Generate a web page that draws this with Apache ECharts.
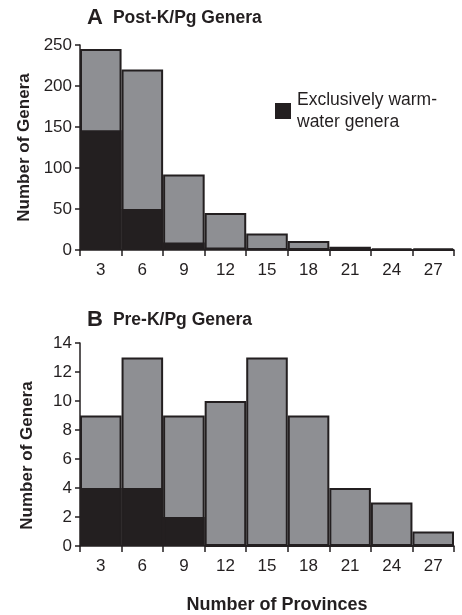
<!DOCTYPE html>
<html>
<head>
<meta charset="utf-8">
<script src="https://cdn.jsdelivr.net/npm/echarts@6/dist/echarts.min.js"></script>
<style>
  html, body { margin: 0; padding: 0; background: #fff; }
  #chart { width: 462px; height: 615px; }
</style>
</head>
<body>
<div id="chart"></div>
<script>
// 省份数（类目）
var provinces = ['3', '6', '9', '12', '15', '18', '21', '24', '27'];
// A: Post-K/Pg
var postTotal = [245, 220, 92, 45, 20, 11, 4, 2, 2];
var postWarm = [146, 50, 9, 3, 1, 0, 0, 0, 0];
// B: Pre-K/Pg
var preTotal = [9, 13, 9, 10, 13, 9, 4, 3, 1];
var preWarm = [4, 4, 2, 0, 0, 0, 0, 0, 0];

var ink = '#231f20';
var grey = '#8e8f93';
var font = 'Liberation Sans, Arial, Helvetica, sans-serif';

var myChart = echarts.init(document.getElementById('chart'));

function xAxisOf(gridIndex, withName) {
  var ax = {
    type: 'category',
    gridIndex: gridIndex,
    data: provinces,
    boundaryGap: true,
    axisLine: { lineStyle: { color: ink, width: 1.5 } },
    axisTick: { show: true, length: 6, lineStyle: { color: ink, width: 1.5 } },
    axisLabel: { color: ink, fontSize: 17, fontFamily: font, margin: 12 }
  };
  if (withName) {
    ax.name = 'Number of Provinces';
    ax.nameLocation = 'middle';
    ax.nameGap = 50;
    ax.nameTextStyle = { color: ink, fontSize: 18, fontWeight: 'bold', fontFamily: font, padding: [0, 0, 0, 20] };
  }
  return ax;
}

function yAxisOf(gridIndex, max, interval, pad) {
  return {
    type: 'value',
    gridIndex: gridIndex,
    min: 0,
    max: max,
    interval: interval,
    name: 'Number of Genera',
    nameLocation: 'middle',
    nameGap: 44,
    nameTextStyle: { color: ink, fontSize: 17, fontWeight: 'bold', fontFamily: font, padding: pad },
    splitLine: { show: false },
    axisLine: { show: true, lineStyle: { color: ink, width: 1.5 } },
    axisTick: { show: true, length: 5, lineStyle: { color: ink, width: 1.5 } },
    axisLabel: { color: ink, fontSize: 17, fontFamily: font, margin: 8 }
  };
}

function titleOf(letter, text, top) {
  return {
    text: '{a|' + letter + '}{b|' + text + '}',
    left: 87,
    top: top,
    padding: 0,
    textStyle: {
      rich: {
        a: { fontSize: 22, fontWeight: 'bold', color: ink, fontFamily: font },
        b: { fontSize: 17.5, fontWeight: 'bold', color: ink, fontFamily: font, padding: [0, 0, 0, 10] }
      }
    }
  };
}

var option = {
  animation: false,
  title: [
    titleOf('A', 'Post-K/Pg Genera', 7),
    titleOf('B', 'Pre-K/Pg Genera', 309)
  ],
  legend: {
    data: ['Exclusively warm-\nwater genera'],
    left: 270,
    top: 84,
    itemWidth: 14,
    itemHeight: 14,
    icon: 'rect',
    textStyle: { color: ink, fontSize: 17.5, fontFamily: font, lineHeight: 22, padding: [0, 0, 0, 2] }
  },
  grid: [
    { left: 80, right: 8, top: 45, height: 205 },
    { left: 80, right: 8, top: 343, height: 205 }
  ],
  xAxis: [xAxisOf(0, false), xAxisOf(1, true)],
  yAxis: [yAxisOf(0, 250, 50, 0), yAxisOf(1, 14, 2, [0, 22, 0, 0])],
  series: [
    {
      name: 'total A',
      type: 'bar',
      xAxisIndex: 0,
      yAxisIndex: 0,
      data: postTotal,
      barCategoryGap: '0%',
      barGap: '-100%',
      itemStyle: { color: grey, borderColor: ink, borderWidth: 2 }
    },
    {
      name: 'Exclusively warm-\nwater genera',
      type: 'bar',
      xAxisIndex: 0,
      yAxisIndex: 0,
      data: postWarm,
      barCategoryGap: '0%',
      barGap: '-100%',
      itemStyle: { color: ink, borderColor: ink, borderWidth: 2 }
    },
    {
      name: 'total B',
      type: 'bar',
      xAxisIndex: 1,
      yAxisIndex: 1,
      data: preTotal,
      barCategoryGap: '0%',
      barGap: '-100%',
      itemStyle: { color: grey, borderColor: ink, borderWidth: 2 }
    },
    {
      name: 'warm B',
      type: 'bar',
      xAxisIndex: 1,
      yAxisIndex: 1,
      data: preWarm,
      barCategoryGap: '0%',
      barGap: '-100%',
      itemStyle: { color: ink, borderColor: ink, borderWidth: 2 }
    }
  ]
};
myChart.setOption(option);
</script>
</body>
</html>
